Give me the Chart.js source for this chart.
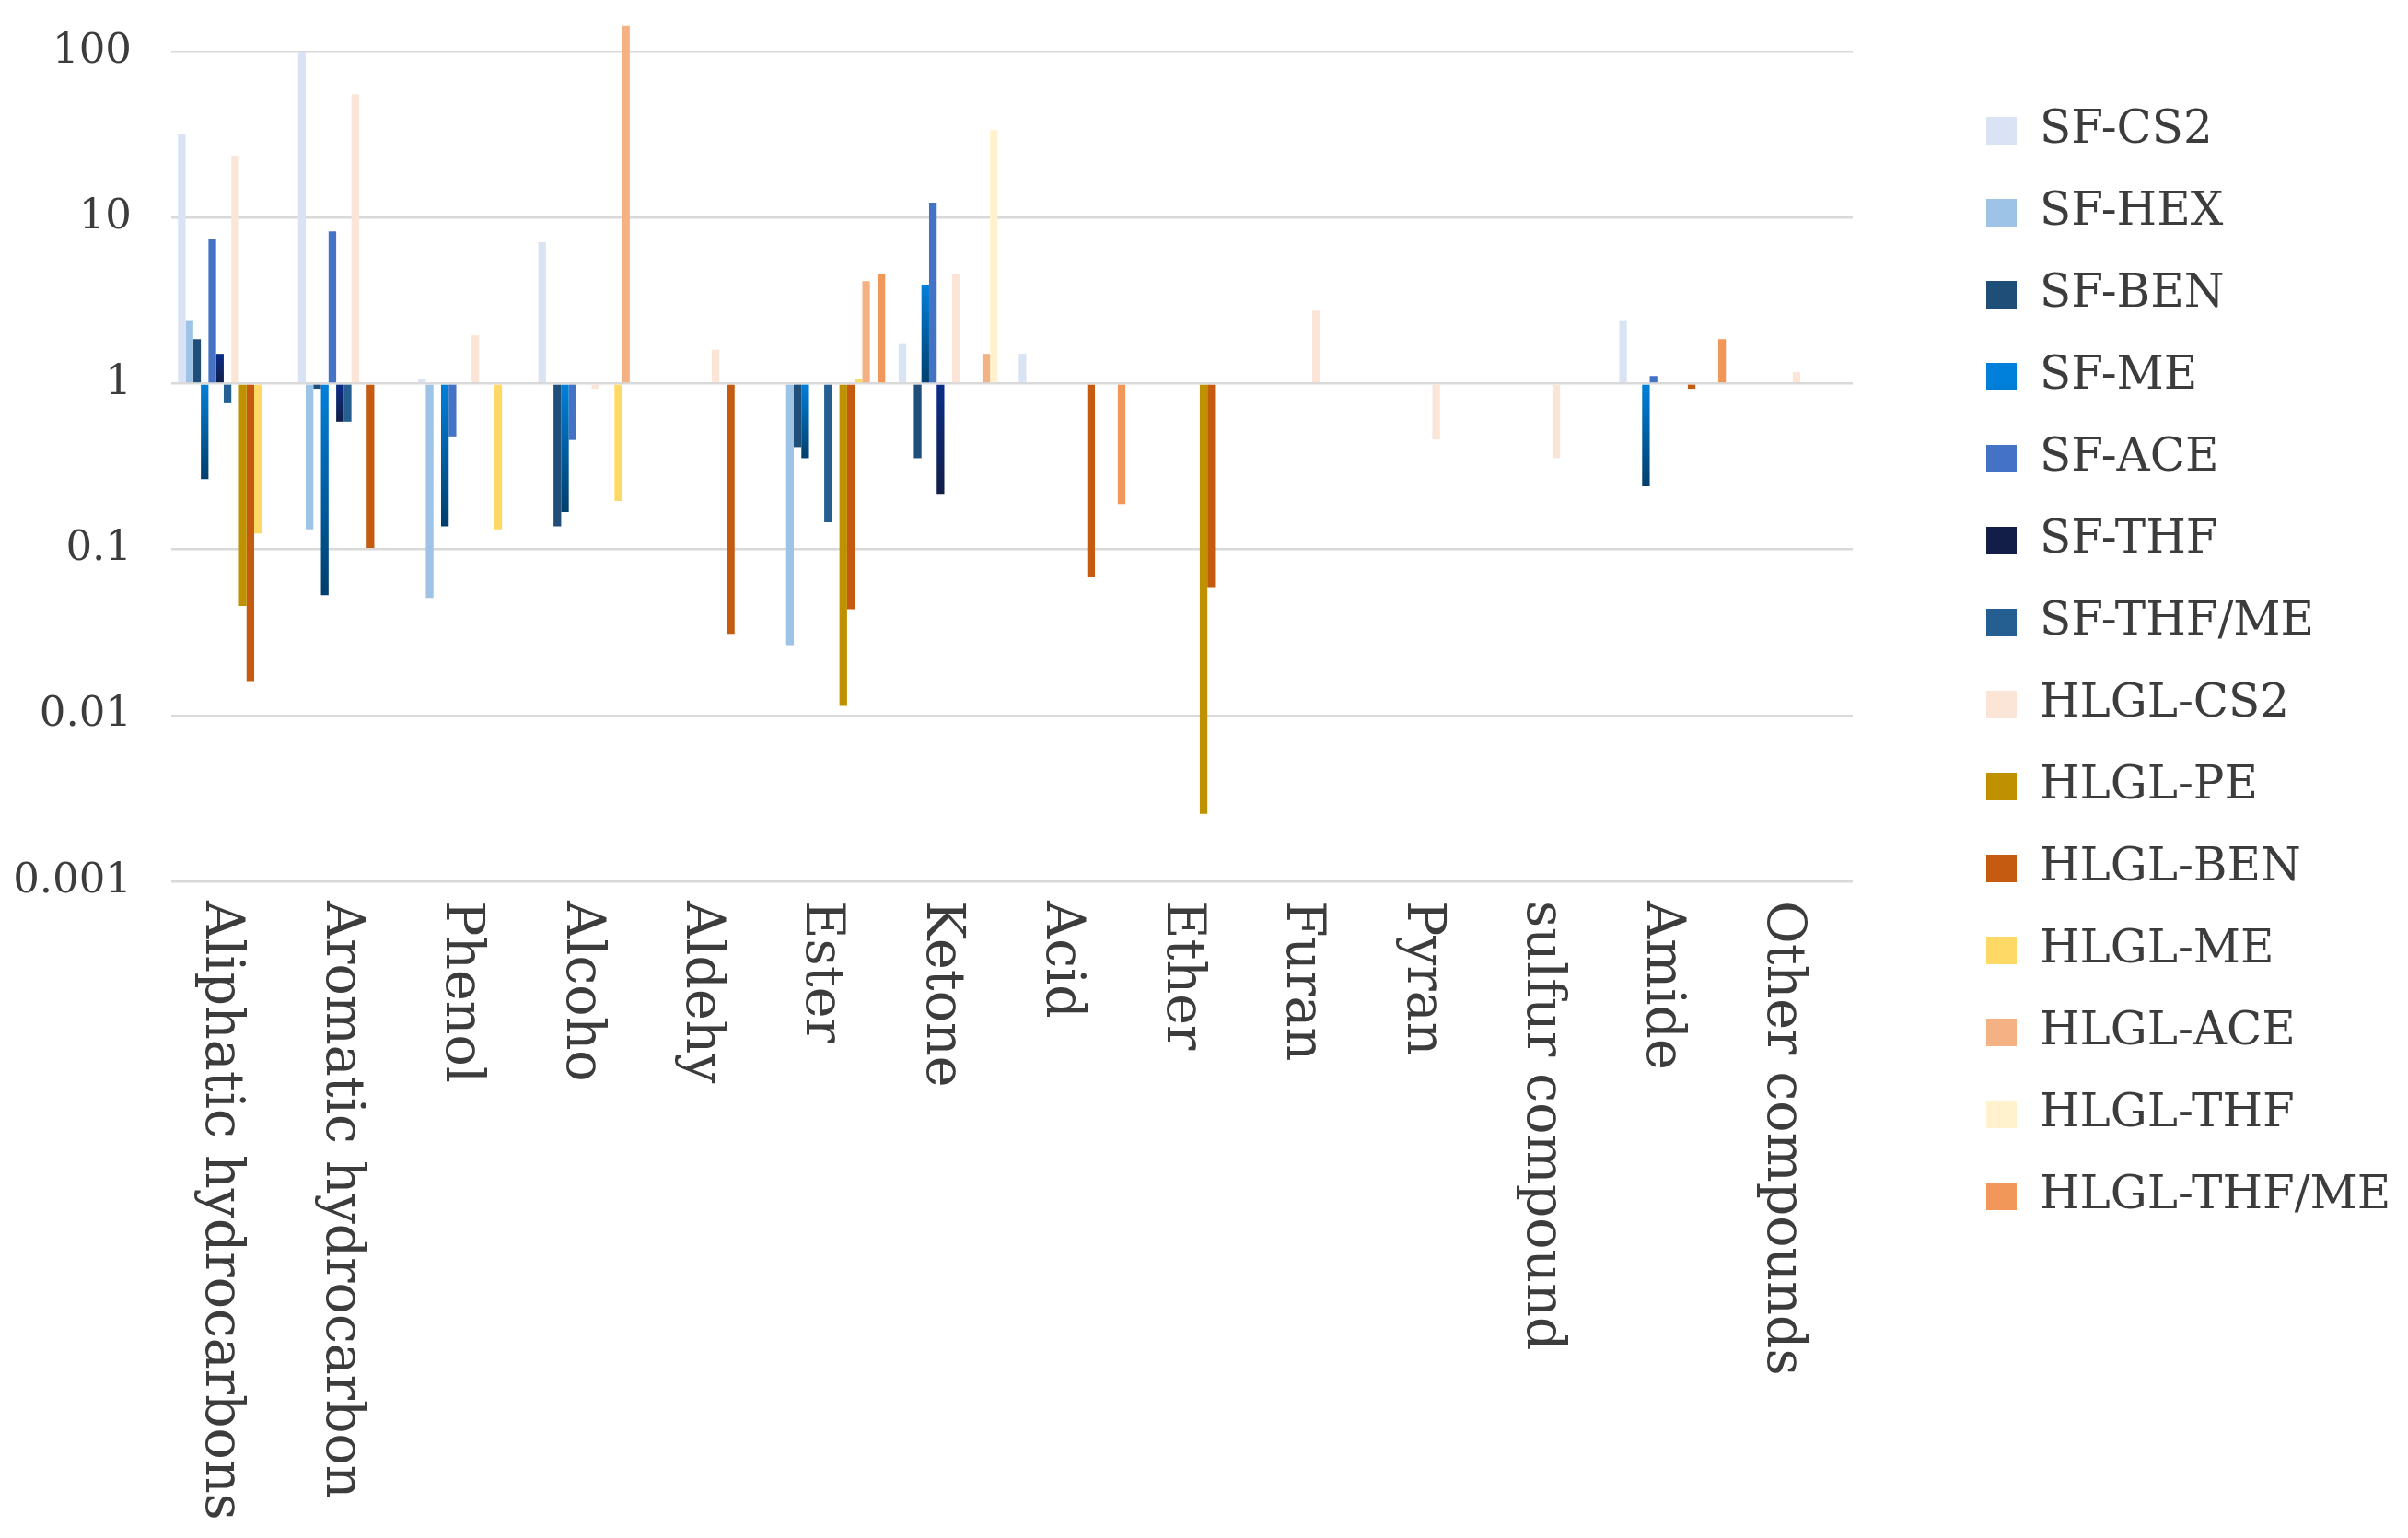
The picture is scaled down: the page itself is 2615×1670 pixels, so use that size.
<!DOCTYPE html>
<html><head><meta charset="utf-8">
<script src="https://cdn.jsdelivr.net/npm/chart.js@4.4.1/dist/chart.umd.min.js"></script>
<style>html,body{margin:0;padding:0;background:#fff}#wrap{width:2615px;height:1670px;position:relative;background:#fff}</style>
</head><body><div id="wrap"><canvas id="c"></canvas></div>
<script>
// ---- data ----
const categories = ["Aliphatic hydrocarbons","Aromatic hydrocarbon","Phenol","Alcoho","Aldehy","Ester","Ketone","Acid","Ether","Furan","Pyran","sulfur compound","Amide","Other compounds"];
const seriesNames = ["SF-CS2","SF-HEX","SF-BEN","SF-ME","SF-ACE","SF-THF","SF-THF/ME","HLGL-CS2","HLGL-PE","HLGL-BEN","HLGL-ME","HLGL-ACE","HLGL-THF","HLGL-THF/ME"];
const sfCS2    = [32, 100, 1.06, 7.1, null, null, 1.75, 1.51, null, null, null, null, 2.38, null];
const sfHEX    = [2.38, 0.132, 0.051, null, null, 0.0265, null, null, null, null, null, null, null, null];
const sfBEN    = [1.85, 0.93, null, 0.138, null, 0.414, 0.355, null, null, null, null, null, null, null];
const sfME     = [0.265, 0.053, 0.138, 0.168, null, 0.355, 3.92, null, null, null, null, null, 0.24, null];
const sfACE    = [7.47, 8.25, 0.48, 0.457, null, null, 12.3, null, null, null, null, null, 1.11, null];
const sfTHF    = [1.51, 0.589, null, null, null, null, 0.216, null, null, null, null, null, null, null];
const sfTHFME  = [0.76, 0.589, null, null, null, 0.146, null, null, null, null, null, null, null, null];
const hlCS2    = [23.6, 55.4, 1.95, 0.93, 1.6, null, 4.57, null, null, 2.75, 0.46, 0.355, null, 1.17];
const hlPE     = [0.0457, null, null, null, null, 0.0114, null, null, 0.00255, null, null, null, null, null];
const hlBEN    = [0.0161, 0.102, null, null, 0.031, 0.0437, null, 0.0687, 0.0593, null, null, null, 0.93, null];
const hlME     = [0.125, null, 0.132, 0.196, null, 1.06, null, null, null, null, null, null, null, null];
const hlACE    = [null, null, null, 143.6, null, 4.14, 1.51, null, null, null, null, null, null, null];
const hlTHF    = [null, null, null, null, null, null, 33.6, null, null, null, null, null, null, null];
const hlTHFME  = [null, null, null, null, null, 4.57, null, 0.188, null, null, null, null, 1.85, null];
const tickValues = [0.001, 0.01, 0.1, 1, 10, 100];
const tickLabels = ["0.001", "0.01", "0.1", "1", "10", "100"];

// ---- styling ----
const FONT = "'DejaVu Serif', serif";
const TEXT = '#3c3c3c';
const LEGEND_W = 497;
const PLOT_RIGHT = 2012;
function grad(top, bottom, fallback){
  return (ctx) => {
    const c = ctx.chart;
    if (!c.chartArea || ctx.raw == null) return fallback;
    const ys = c.scales.y;
    const a = ys.getPixelForValue(1), b = ys.getPixelForValue(ctx.raw);
    const y0 = Math.min(a,b), y1 = Math.max(a,b);
    if (!isFinite(y0) || !isFinite(y1) || y1 - y0 < 1) return fallback;
    const g = c.ctx.createLinearGradient(0, y0, 0, y1);
    g.addColorStop(0, top); g.addColorStop(1, bottom);
    return g;
  };
}
const seriesValues = [sfCS2, sfHEX, sfBEN, sfME, sfACE, sfTHF, sfTHFME, hlCS2, hlPE, hlBEN, hlME, hlACE, hlTHF, hlTHFME];
const colors = ['#DAE3F3', '#9DC3E6', '#1F4E79', grad('#0080DA', '#003E6C', '#0068B0'), '#4472C4',
  grad('#0A2D8A', '#131E48', '#0E2468'), '#255E91', '#FBE5D6', '#BF9000', '#C55A11', '#FFD966',
  '#F4B183', '#FFF2CC', '#F1975A'];

const datasets = seriesNames.map((n, i) => ({
  label: n, data: seriesValues[i], backgroundColor: colors[i], borderWidth: 0,
  base: 1, clip: false, categoryPercentage: 0.888, barPercentage: 1.0
}));

const xLabelPlugin = {
  id: 'xLabels',
  afterDraw(chart) {
    const xs = chart.scales.x, ctx = chart.ctx, area = chart.chartArea;
    ctx.save();
    ctx.fillStyle = TEXT;
    ctx.font = "57px " + FONT;
    ctx.textAlign = 'left';
    ctx.textBaseline = 'alphabetic';
    chart.data.labels.forEach((lab, i) => {
      const x = xs.getPixelForValue(i);
      ctx.save();
      ctx.translate(x - 27, area.bottom + 21);
      ctx.rotate(Math.PI / 2);
      ctx.fillText(lab, 0, 0);
      ctx.restore();
    });
    ctx.restore();
  }
};

const chart = new Chart(document.getElementById('c'), {
  type: 'bar',
  data: { labels: categories, datasets },
  plugins: [xLabelPlugin],
  options: {
    responsive: true, maintainAspectRatio: false, animation: false,
    devicePixelRatio: 1,
    layout: { padding: { top: 56, left: 0, right: 0, bottom: 0 } },
    plugins: {
      tooltip: { enabled: false },
      legend: {
        position: 'right', align: 'start',
        title: { display: true, text: '', font: { size: 10, lineHeight: 1 }, padding: { top: 0, bottom: 12 } },
        labels: { font: { family: FONT, size: 50 }, color: TEXT, boxWidth: 33, boxHeight: 30, padding: 39 }
      }
    },
    scales: {
      x: {
        grid: { display: false }, border: { display: false },
        ticks: { display: false },
        afterFit(s) { s.height = 713; }
      },
      y: {
        type: 'logarithmic', min: 0.001, max: 100,
        grid: { color: '#d9d9d9', lineWidth: 2.5, drawTicks: false },
        border: { display: false },
        afterBuildTicks(s) { s.ticks = tickValues.map(v => ({ value: v })); },
        ticks: { padding: 43, color: TEXT, font: { family: FONT, size: 45 },
          callback: (v, i) => tickLabels[i] },
        afterFit(s) { s.width = 186; s.paddingTop = 27; s.paddingBottom = 0; }
      },
      pad: {
        type: 'linear', axis: 'y', position: 'right', display: true,
        grid: { display: false }, border: { display: false }, ticks: { display: false },
        afterFit(s) {
          const lg = s.chart.legend;
          const lw = lg && lg.width ? lg.width : LEGEND_W;
          s.width = Math.max(0, 2615 - lw - PLOT_RIGHT);
          s.paddingTop = 0; s.paddingBottom = 0;
        }
      }
    }
  }
});
// give the right-hand legend a fixed width so its long labels are not clipped
const lg = chart.legend;
if (lg) {
  const origFit = lg.fit;
  lg.fit = function () { origFit.call(this); if (!this.isHorizontal()) this.width = LEGEND_W; };
  chart.update();
}
</script></body></html>
